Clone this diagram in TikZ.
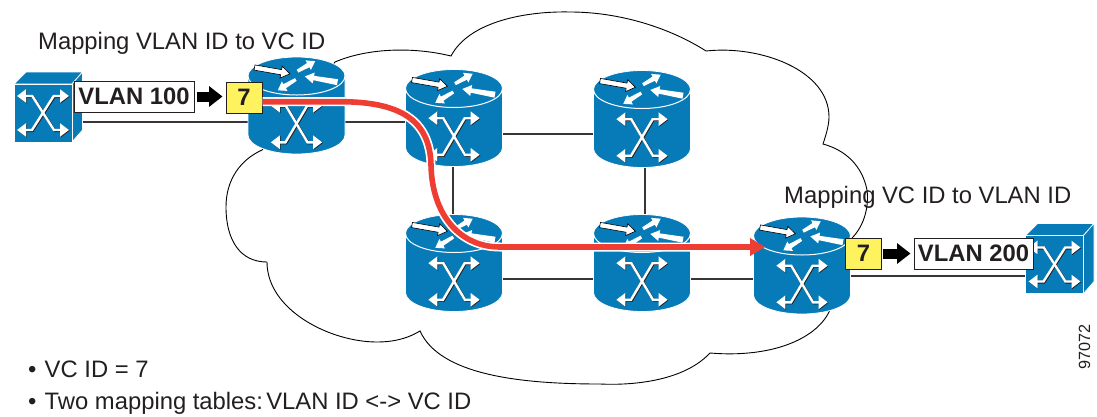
\documentclass[tikz,border=0pt]{standalone}
\usepackage{fontspec}
\setmainfont{Liberation Sans}
\usetikzlibrary{arrows.meta,calc}
\definecolor{ciscoblue}{HTML}{077BB8}
\definecolor{inkdark}{HTML}{231F20}
\definecolor{pathred}{HTML}{EE3D33}
\definecolor{tagyellow}{HTML}{FFF25F}
% flat tapered arrow: x,y of tail, angle, length, tail half width, neck half width, head length, head half width
\newcommand{\flatarrow}[9][]{%
  \begin{scope}[shift={(#2,#3)},rotate=-#4]
    \fill[white,#1] (0,-#6) -- ({#5-#8},-#7) -- ({#5-#8},-#9) -- (#5,0) -- ({#5-#8},#9) -- ({#5-#8},#7) -- (0,#6) -- cycle;
  \end{scope}}
% crossed double-headed arrows, half height given
\newcommand{\crossmark}[3]{%
  \begin{scope}[shift={(0,#1)}]
    \foreach \dx/\dy/\colr/\wid in {0.7/-0.7/inkdark/2.6, 0/0/white/2.4}{
      \begin{scope}[shift={(\dx,\dy)}]
      \draw[line width=\wid pt,color=\colr,{Triangle[length=9pt,width=13pt]}-{Triangle[length=9pt,width=13pt]},line join=miter]
        (-#2,#3) -- (-10.7,#3) -- (11,-#3) -- (#2,-#3);
      \draw[line width=\wid pt,color=\colr,{Triangle[length=9pt,width=13pt]}-{Triangle[length=9pt,width=13pt]},line join=miter]
        (#2,#3) -- (10.7,#3) -- (-11,-#3) -- (-#2,-#3);
      \end{scope}}
  \end{scope}}
\tikzset{
  anchorbox/.style={inner sep=0pt,outer sep=0pt,minimum width=97pt,minimum height=97pt},
  cubebox/.style={inner sep=0pt,outer sep=0pt,minimum width=58pt,minimum height=58pt},
  link/.style={line width=1.1pt,color=inkdark!90},
  cloudline/.style={line width=0.9pt,color=black},
  caption/.style={inner sep=0pt,anchor=base west,text=inkdark,font=\fontsize{23.8}{28}\selectfont},
  vlanbox/.style={draw=inkdark,line width=1pt,fill=white,inner sep=0pt,minimum width=119pt,minimum height=31pt,text=inkdark,font=\bfseries\fontsize{23.8}{28}\selectfont},
  tagbox/.style={draw=inkdark,line width=1pt,fill=tagyellow,inner sep=0pt,minimum width=36pt,minimum height=31pt,text=inkdark,font=\bfseries\fontsize{23.8}{28}\selectfont},
  blockarrow/.style={line width=10pt,color=black,-{Triangle[length=13.5pt,width=20pt]}},
  router/.pic={
    \begin{scope}[yscale=-1]
      \fill[ciscoblue,draw=white,line width=0.8pt] (-48.5,29.5) arc[start angle=180,end angle=0,x radius=48.5,y radius=19]
        -- (48.5,-29.5) arc[start angle=0,end angle=-180,x radius=48.5,y radius=19] -- cycle;
      \draw[white,line width=1pt] (-48.5,29.5) arc[start angle=180,end angle=360,x radius=48.5,y radius=19];
      \flatarrow[draw=black,line width=0.6pt]{-42}{38}{-10}{36}{2.6}{2.6}{9}{6}
      \flatarrow{1}{34.3}{29.5}{20.3}{1.6}{2.4}{8}{5.5}
      \flatarrow{41}{23.3}{170}{33.2}{3}{2.2}{9}{5.5}
      \flatarrow{-0.7}{26}{211}{21}{1.6}{2.4}{8}{5.5}
      \crossmark{-18.5}{25.7}{18.3}
    \end{scope}},
  switchcube/.pic={
    \begin{scope}[yscale=-1]
      \fill[ciscoblue,draw=white,line width=0.7pt] (-29,29) -- (-17,41) -- (39.5,41) -- (29,29) -- cycle;
      \fill[ciscoblue,draw=white,line width=0.7pt] (29,29) -- (39.5,41) -- (39.5,-17) -- (29,-29) -- cycle;
      \fill[ciscoblue,draw=white,line width=0.7pt] (-29,-29) rectangle (29,29);
      \crossmark{0}{26}{17}
    \end{scope}}
}
\begin{document}
\begin{tikzpicture}[x=1pt,y=-1pt]
\useasboundingbox (0,0) rectangle (1097,416);
\fill[white] (0,0) rectangle (1097,416);

% cloud
\draw[cloudline] (335,62)
  .. controls (365,49) and (410,46) .. (451,56)
  .. controls (470,20) and (530,11) .. (570,12)
  .. controls (620,12) and (670,28) .. (706,51)
  .. controls (760,45) and (829,70) .. (829,117)
  .. controls (829,125) and (826,135) .. (823,144)
  .. controls (845,150) and (862,165) .. (867,190)
  .. controls (869,205) and (865,225) .. (852,238)
  -- (829,312)
  .. controls (815,340) and (770,358) .. (710,353)
  .. controls (680,385) and (620,385) .. (600,384)
  .. controls (520,384) and (440,375) .. (420,331)
  .. controls (405,340) and (390,342) .. (377,342)
  .. controls (330,342) and (267,310) .. (267,262)
  .. controls (240,262) and (226,240) .. (226,207)
  .. controls (226,180) and (240,160) .. (262,150)
  -- cycle;

% anchors of the devices
\node[anchorbox] (r1) at (296.5,105.5) {};
\node[anchorbox] (r2) at (454,118) {};
\node[anchorbox] (r3) at (642,119) {};
\node[anchorbox] (r4) at (454,263) {};
\node[anchorbox] (r5) at (642,263) {};
\node[anchorbox] (r6) at (802,265.5) {};
\node[cubebox] (s1) at (43,113) {};
\node[cubebox] (s2) at (1054.5,264.5) {};

% links
\draw[link] ([yshift=-9pt]s1.east) -- ([yshift=-16.5pt]r1.center);
\draw[link] ([yshift=-16.5pt]r1.center) -- ([yshift=-4pt]r2.center);
\draw[link] ([yshift=-16pt]r2.center) -- ([yshift=-15pt]r3.center);
\draw[link] ([xshift=-1pt]r2.center) -- ([xshift=-1pt]r4.center);
\draw[link] ([xshift=3pt]r3.center) -- ([xshift=3pt]r5.center);
\draw[link] ([yshift=-16pt]r4.center) -- ([yshift=-16pt]r5.center);
\draw[link] ([yshift=-16pt]r5.center) -- ([yshift=-13.5pt]r6.center);
\draw[link] ([yshift=-10.5pt]r6.center) -- ([yshift=-11.5pt]s2.center);

% devices
\foreach \n in {r1,r2,r3,r4,r5,r6} { \pic at (\n) {router}; }
\pic at (s1) {switchcube};
\pic at (s2) {switchcube};

% tags
\node[vlanbox,minimum width=120pt] (v1) at (134,96.5) {VLAN 100};
\node[tagbox] (y1) at (244,97.5) {7};
\node[tagbox] (y2) at (863.5,253.5) {7};
\node[vlanbox] (v2) at (973.5,253.5) {VLAN 200};
\draw[blockarrow,shorten <=2pt,shorten >=3pt] (v1.east) -- (y1.west |- v1.east);
\draw[blockarrow,shorten <=1pt,shorten >=3pt] (y2.east) -- (v2.west);

% red path
\coordinate (redend) at (765,247);
\draw[white,line width=9pt] ([yshift=-4.2pt]y1.east) -- (340,101.7)
  .. controls (400,101.7) and (430,120) .. (431,165)
  .. controls (432,215) and (460,247) .. (500,247) -- (750,247);
\draw[pathred,line width=5.6pt,-{Triangle[length=15pt,width=17pt]}] ([yshift=-4.2pt]y1.east) -- (340,101.7)
  .. controls (400,101.7) and (430,120) .. (431,165)
  .. controls (432,215) and (460,247) .. (500,247) -- (redend);

% captions
\node[caption] (c1) at (38,49) {Mapping VLAN ID to VC ID};
\node[caption] (c2) at (784,203) {Mapping VC ID to VLAN ID};
\node[caption] (c3) at (28,377) {•\hspace{8.2pt}VC ID = 7};
\node[caption] (c4) at (28,409) {•\hspace{8.2pt}Two mapping tables:\hspace{-5.5pt} VLAN ID <-> VC ID};
\node[inner sep=0pt,anchor=base west,rotate=90,text=inkdark,font=\fontsize{16.2}{18}\selectfont] (c5) at (1090,370) {97072};
\end{tikzpicture}
\end{document}
